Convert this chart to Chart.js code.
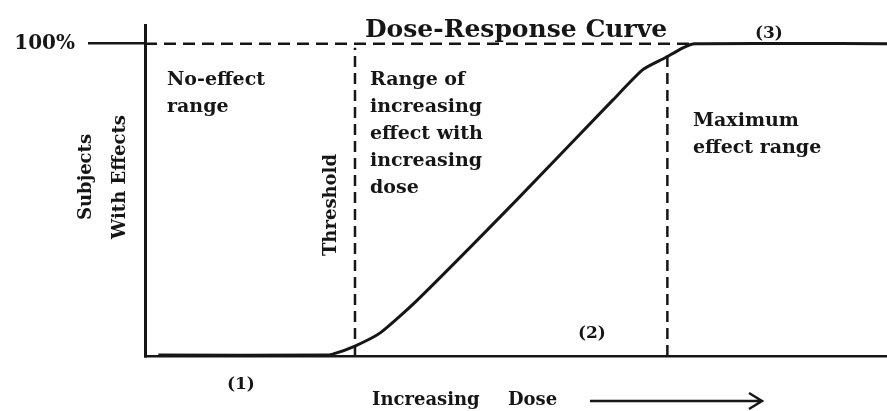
<!DOCTYPE html>
<html>
<head>
<meta charset="utf-8">
<script src="https://cdn.jsdelivr.net/npm/chart.js@4/dist/chart.umd.min.js"></script>
<style>
  html,body{margin:0;padding:0;background:#fff;}
  canvas{display:block;}
</style>
</head>
<body>
<canvas id="doseChart" width="887" height="411"></canvas>
<script>
// dose on a relative 0-100 scale, response = % of subjects with effects
const doseLevels  = [1.8, 24.3, 25.3, 28.3, 31.7, 36.7, 50.1, 63.1, 67.1, 70.1, 72.5, 74.1, 100];
const responsePct = [0.3, 0.3, 0.6, 3.2, 7.4, 17.9, 50, 82.1, 91.7, 95.5, 98.7, 100, 100];

// dashed guide lines
const thresholdDose = 28.3, thresholdTop = 98.7;
const maxEffectDose = 70.4, maxEffectTop = 95.8;
const ceilingDose = [0, 74];
const ceilingPct = 100;

const yTicks = [100];

const titleText = 'Dose-Response Curve';
const noEffectLines = ['No-effect', 'range'];
const rampLines = ['Range of', 'increasing', 'effect with', 'increasing', 'dose'];
const maxLines = ['Maximum', 'effect range'];
const yTitleLines = ['Subjects', 'With Effects'];
const thresholdLabel = 'Threshold';
const markers = ['(1)', '(2)', '(3)'];
const xTitleWords = ['Increasing', 'Dose'];

const ink = '#161616';
const serif = '"DejaVu Serif", "Liberation Serif", serif';

function pts(xs, ys){ return xs.map((v,i)=>({x:v, y:ys[i]})); }

// text + arrow drawn on top of the chart
const annotationText = {
  id: 'annotationText',
  afterDraw(chart){
    const ctx = chart.ctx;
    ctx.save();
    ctx.fillStyle = ink;
    ctx.strokeStyle = ink;
    ctx.textBaseline = 'alphabetic';

    ctx.font = `bold 25px ${serif}`;
    ctx.textAlign = 'center';
    ctx.fillText(titleText, 516, 37);

    ctx.textAlign = 'left';
    ctx.font = `bold 19px ${serif}`;
    noEffectLines.forEach((t,i)=>ctx.fillText(t, 167, 85 + i*27));
    rampLines.forEach((t,i)=>ctx.fillText(t, 370, 85 + i*27));
    maxLines.forEach((t,i)=>ctx.fillText(t, 693, 126 + i*27));

    ctx.font = `bold 17px ${serif}`;
    ctx.fillText(markers[0], 227, 389);
    ctx.fillText(markers[1], 578, 338);
    ctx.fillText(markers[2], 755, 38);

    ctx.font = `bold 18px ${serif}`;
    ctx.fillText(xTitleWords[0], 372, 405);
    ctx.fillText(xTitleWords[1], 508, 405);

    // arrow after the axis title
    ctx.lineWidth = 2.5;
    ctx.beginPath();
    ctx.moveTo(590, 401); ctx.lineTo(761, 401);
    ctx.moveTo(749, 393); ctx.lineTo(762, 401); ctx.lineTo(749, 409);
    ctx.stroke();

    // rotated texts
    ctx.font = `bold 18px ${serif}`;
    ctx.textAlign = 'center';
    [[yTitleLines[0], 91], [yTitleLines[1], 125]].forEach(([t, bx])=>{
      ctx.save(); ctx.translate(bx, 177); ctx.rotate(-Math.PI/2);
      ctx.fillText(t, 0, 0); ctx.restore();
    });
    ctx.save(); ctx.translate(336, 205); ctx.rotate(-Math.PI/2);
    ctx.fillText(thresholdLabel, 0, 0); ctx.restore();

    ctx.restore();
  }
};

new Chart(document.getElementById('doseChart'), {
  type: 'line',
  data: {
    datasets: [
      { label: 'Response', data: pts(doseLevels, responsePct), borderColor: ink, borderWidth: 3,
        pointRadius: 0, tension: 0.2, fill: false },
      { label: 'Ceiling', data: pts(ceilingDose, [ceilingPct, ceilingPct]), borderColor: ink, borderWidth: 2.5,
        borderDash: [12, 7], pointRadius: 0 },
      { label: 'Threshold', data: pts([thresholdDose, thresholdDose], [0, thresholdTop]), borderColor: ink, borderWidth: 2.5,
        borderDash: [11, 6], pointRadius: 0 },
      { label: 'Max effect', data: pts([maxEffectDose, maxEffectDose], [0, maxEffectTop]), borderColor: ink, borderWidth: 2.5,
        borderDash: [11, 6], pointRadius: 0 }
    ]
  },
  options: {
    responsive: false,
    animation: false,
    devicePixelRatio: 1,
    layout: { padding: { top: 25, bottom: 55, left: 0, right: 0 } },
    plugins: { legend: { display: false }, tooltip: { enabled: false }, title: { display: false } },
    scales: {
      x: {
        type: 'linear', min: 0, max: 100,
        grid: { display: false, drawTicks: false },
        ticks: { display: false },
        border: { display: true, width: 2.5, color: ink }
      },
      y: {
        type: 'linear', min: 0, max: 106,
        afterFit(s){ s.width = 145; },
        afterBuildTicks(s){ s.ticks = yTicks.map(v=>({value:v})); },
        grid: { drawOnChartArea: false, drawTicks: true, tickLength: 57, lineWidth: 2.5, color: ink },
        border: { display: true, width: 3, color: ink },
        ticks: { padding: 13, color: ink, font: { family: serif, weight: 'bold', size: 20 }, callback: v => v + '%' }
      }
    }
  },
  plugins: [annotationText]
});
</script>
</body>
</html>
